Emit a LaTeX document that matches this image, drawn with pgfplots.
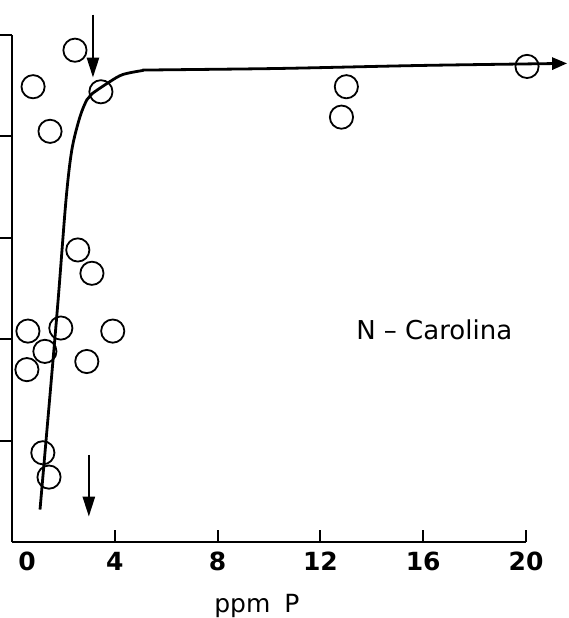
\documentclass[border=0pt]{standalone}
\usepackage{pgfplots}
\pgfplotsset{compat=1.18}
\usepackage{fontspec}
\setmainfont{DejaVu Sans}
\usetikzlibrary{arrows.meta}

\begin{document}
\begin{tikzpicture}
\begin{axis}[
  scale only axis, width=257pt, height=253.5pt,
  xmin=0, xmax=20, ymin=0, ymax=5,
  axis lines*=left,
  axis line style={line width=1pt},
  clip=false,
  xtick={4,8,12,16,20},
  ytick={1,2,3,4,5},
  yticklabels={},
  tick align=inside,
  major tick length=6pt,
  every tick/.style={black, line width=1pt},
  every y tick/.append style={xshift=-6pt},
  extra x ticks={0},
  extra x tick style={major tick length=0pt, xticklabel style={xshift=7.5pt}},
  xticklabel style={font=\fontsize{12.5}{14}\selectfont\bfseries, anchor=base, yshift=-14pt},
  /pgf/number format/assume math mode=true,
]
  % measured points
  \addplot[only marks, mark=o, mark size=5.8pt, mark options={line width=0.9pt}, black] coordinates {
    (2.45,4.85) (0.82,4.49) (1.48,4.05) (3.46,4.44) (2.56,2.88) (3.11,2.65)
    (0.62,2.08) (1.90,2.11) (3.92,2.08) (1.28,1.88) (2.91,1.78) (0.58,1.70)
    (1.20,0.88) (1.44,0.64) (13.01,4.49) (12.82,4.19) (20.04,4.69)
  };
  % fitted response curve
  \addplot[smooth, line width=1.4pt, black, -{Triangle[length=7.5pt,width=6pt]}] coordinates {
    (1.09,0.32) (1.75,2.25) (2.10,3.37) (2.33,3.87) (2.64,4.19) (2.91,4.36)
    (3.11,4.42) (3.81,4.54) (4.31,4.61) (5.09,4.65) (5.48,4.655) (10.4,4.67)
    (16,4.70) (21.6,4.72)
  };
  % critical level arrows
  \addplot[line width=1.3pt, black, -{Triangle[length=10pt,width=6pt]}] coordinates {(3.15,5.20) (3.15,4.58)};
  \addplot[line width=1.3pt, black, -{Triangle[length=10pt,width=6pt]}] coordinates {(2.99,0.86) (2.99,0.25)};

  \node[anchor=base, font=\fontsize{13}{15}\selectfont] at (axis cs:16.43,2.0) {N – Carolina};
  \node[anchor=base, yshift=-35pt, font=\fontsize{12.5}{15}\selectfont] at (axis cs:9.53,0) {ppm\hspace{7pt}P};

  \coordinate (o) at (axis cs:0,0);
  \coordinate (t) at (axis cs:20,5);
\end{axis}
\pgfresetboundingbox
\path[use as bounding box] ([shift={(-6pt,-38pt)}]o) rectangle ([shift={(21.5pt,17.5pt)}]t);
\end{tikzpicture}
\end{document}
